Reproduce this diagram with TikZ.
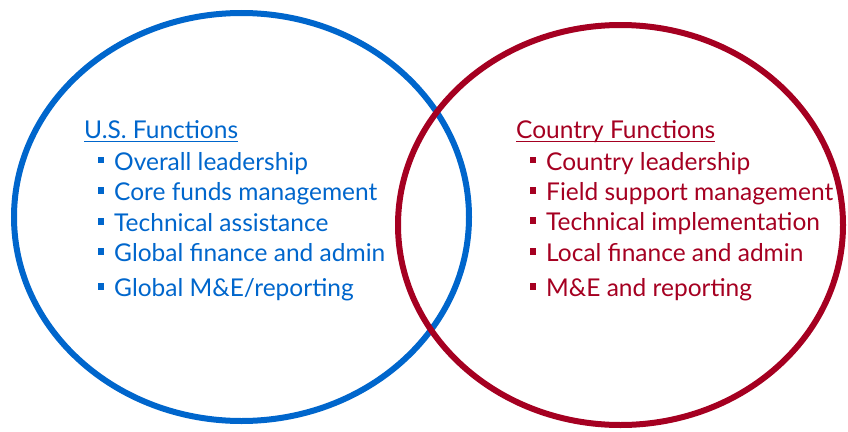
\documentclass[tikz,border=0pt]{standalone}
\usepackage{fontspec}
\setmainfont{Lato}
\usetikzlibrary{positioning}
\definecolor{usblue}{RGB}{0,102,204}
\definecolor{cored}{RGB}{165,0,33}
\newcommand{\sqb}{\rule[6.7pt]{6.7pt}{6.7pt}\hspace{10pt}}
\tikzset{label/.style = {anchor=base west, inner sep=0pt, font=\fontsize{24.5}{28}\selectfont},
         ring/.style = {line width=6pt}}

\begin{document}
\begin{tikzpicture}[x=1pt, y=-1pt]
\useasboundingbox (0,0) rectangle (848,431);
\draw[ring, usblue] (241.5,217) ellipse [x radius=227.5, y radius=204];
\draw[ring, cored] (620.5,225) ellipse [x radius=222.5, y radius=200];
\node[label, usblue] (ushead) at (84,138.3) {U.S. Functions};
\draw[usblue, line width=1.5pt] ([yshift=-3.4pt]ushead.base west) -- ([yshift=-3.4pt]ushead.base east);
\node[label, cored] (cnhead) at (516,138.3) {Country Functions};
\draw[cored, line width=1.5pt] ([yshift=-3.4pt]cnhead.base west) -- ([yshift=-3.4pt]cnhead.base east);
\foreach \y/\t [count=\i] in {170/{Overall leadership}, 200.7/{Core funds management},
    231.7/{Technical assistance}, 261.7/{Global finance and admin}, 296.7/{Global M\&E/reporting}}
  \node[label, usblue] (us\i) at (97.3,\y) {\sqb\t};
\foreach \y/\t [count=\i] in {170/{Country leadership}, 200.7/{Field support management},
    230.7/{Technical implementation}, 261.7/{Local finance and admin}, 296.7/{M\&E and reporting}}
  \node[label, cored] (cn\i) at (529.3,\y) {\sqb\t};
\end{tikzpicture}
\end{document}
